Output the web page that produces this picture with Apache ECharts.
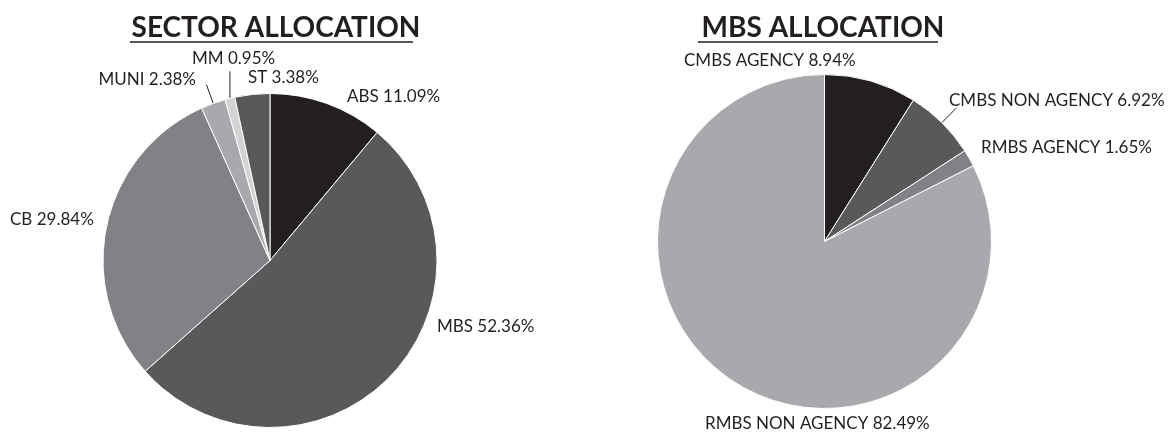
<!DOCTYPE html>
<html>
<head>
<meta charset="utf-8">
<script src="https://cdn.jsdelivr.net/npm/echarts@6/dist/echarts.min.js"></script>
<style>
html,body{margin:0;padding:0;background:#fff;}
#chart{width:1173px;height:433px;}
</style>
</head>
<body>
<div id="chart"></div>
<script>
// ---- data ----
var sectorNames = ['ABS', 'MBS', 'CB', 'MUNI', 'MM', 'ST'];
var sectorValues = [11.09, 52.36, 29.84, 2.38, 0.95, 3.38];
var mbsNames = ['CMBS AGENCY', 'CMBS NON AGENCY', 'RMBS AGENCY', 'RMBS NON AGENCY'];
var mbsValues = [8.94, 6.92, 1.65, 82.49];
var titles = ['SECTOR ALLOCATION', 'MBS ALLOCATION'];

// ---- styles / positions ----
var sectorColors = ['#231f20', '#58595b', '#808285', '#a7a9ac', '#d1d3d4', '#58595b'];
var mbsColors = ['#231f20', '#58595b', '#808285', '#a7a9ac'];
// leader line: null = none, ['radial', len] or ['vertical', len]
var sectorLines = [null, null, null, ['radial', 20], ['vertical', 27], null];
var mbsLines = [null, ['radial', 21], null, null];
// label anchor [x, y, align]
var sectorLabelPos = [[347, 97, 'left'], [437, 327, 'left'], [10, 220, 'left'], [196, 80, 'right'], [192, 59, 'left'], [248, 78, 'left']];
var mbsLabelPos = [[684, 61, 'left'], [949, 101, 'left'], [981, 148, 'left'], [705, 424, 'left']];

var FONT = 'Lato';
var TXT = '#231f20';

function buildData(names, values, colors, lines) {
  return names.map(function (n, i) {
    return {
      name: n,
      value: values[i],
      itemStyle: { color: colors[i] },
      labelLine: { show: !!lines[i], length: lines[i] ? lines[i][1] : 10, length2: 0 }
    };
  });
}

function layoutFor(pos, lines) {
  return function (p) {
    var q = pos[p.dataIndex];
    var out = { x: q[0], y: q[1], align: q[2], verticalAlign: 'middle' };
    var ln = lines[p.dataIndex];
    if (ln && p.labelLinePoints) {
      var a = p.labelLinePoints[0], b = p.labelLinePoints[1];
      if (ln[0] === 'vertical') {
        out.labelLinePoints = [[a[0], a[1]], [a[0], a[1] - ln[1]]];
      } else {
        out.labelLinePoints = [[a[0], a[1]], [b[0], b[1]]];
      }
    }
    return out;
  };
}

var chart = echarts.init(document.getElementById('chart'), null, { renderer: 'canvas' });

var labelCommon = {
  show: true,
  position: 'outside',
  color: TXT,
  fontFamily: FONT,
  fontSize: 17,
  formatter: function (p) { return p.name + ' ' + p.value.toFixed(2) + '%'; }
};

chart.setOption({
  animation: false,
  backgroundColor: '#fff',
  title: [
    { text: titles[0], left: 271, top: 9, textAlign: 'center',
      textStyle: { fontFamily: FONT, fontWeight: 'bold', fontSize: 28, color: TXT } },
    { text: titles[1], left: 818, top: 9, textAlign: 'center',
      textStyle: { fontFamily: FONT, fontWeight: 'bold', fontSize: 28, color: TXT } }
  ],
  graphic: [
    { type: 'line', shape: { x1: 130, y1: 42, x2: 413, y2: 42 }, style: { stroke: TXT, lineWidth: 1.5 } },
    { type: 'line', shape: { x1: 698, y1: 42, x2: 938, y2: 42 }, style: { stroke: TXT, lineWidth: 1.5 } }
  ],
  series: [
    {
      type: 'pie',
      center: [270, 260.5],
      radius: 167,
      startAngle: 90,
      clockwise: true,
      avoidLabelOverlap: false,
      itemStyle: { borderColor: '#fff', borderWidth: 1 },
      label: labelCommon,
      labelLine: { lineStyle: { color: TXT, width: 1 } },
      labelLayout: layoutFor(sectorLabelPos, sectorLines),
      emphasis: { disabled: true },
      data: buildData(sectorNames, sectorValues, sectorColors, sectorLines)
    },
    {
      type: 'pie',
      center: [824.5, 241.5],
      radius: 167,
      startAngle: 90,
      clockwise: true,
      avoidLabelOverlap: false,
      itemStyle: { borderColor: '#fff', borderWidth: 1 },
      label: labelCommon,
      labelLine: { lineStyle: { color: TXT, width: 1 } },
      labelLayout: layoutFor(mbsLabelPos, mbsLines),
      emphasis: { disabled: true },
      data: buildData(mbsNames, mbsValues, mbsColors, mbsLines)
    }
  ]
});
</script>
</body>
</html>
